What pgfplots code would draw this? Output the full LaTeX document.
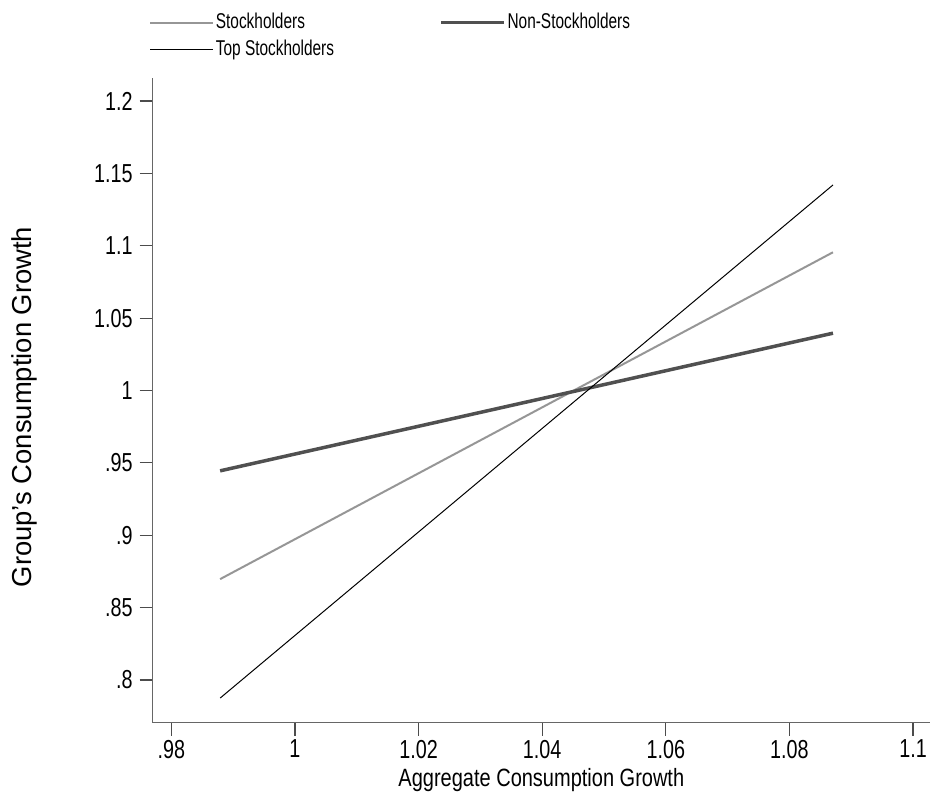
\documentclass[border=0pt]{standalone}
\usepackage{fontspec}
\setmainfont{Liberation Sans}
\newfontfamily\tickfont[FakeStretch=0.76]{Liberation Sans}
\newfontfamily\legfont[FakeStretch=0.72]{Liberation Sans}
\newfontfamily\xlabfont[FakeStretch=0.8]{Liberation Sans}
\usepackage{pgfplots}
\pgfplotsset{compat=1.18}
\definecolor{stockgray}{RGB}{150,150,150}
\definecolor{nongray}{RGB}{80,80,80}
\begin{document}
\begin{tikzpicture}
\begin{axis}[
  name=ax, at={(0,0)}, anchor=south west,
  scale only axis, width=388.65pt, height=322.35pt,
  xmin=0.97698, xmax=1.10275, ymin=0.7705, ymax=1.2159,
  axis x line*=bottom, axis y line*=left,
  axis line style={draw=black!60, line width=0.6pt, -},
  xtick={0.98,1,1.02,1.04,1.06,1.08,1.1},
  xticklabels={.98,1,1.02,1.04,1.06,1.08,1.1},
  ytick={0.8,0.85,0.9,0.95,1,1.05,1.1,1.15,1.2},
  yticklabels={.8,.85,.9,.95,1,1.05,1.1,1.15,1.2},
  tick align=outside, major tick length=6.5pt,
  tick style={draw=black!70, line width=0.6pt},
  xticklabel style={font=\tickfont\fontsize{13}{15}\selectfont, inner sep=0pt, yshift=-2pt},
  yticklabel style={font=\tickfont\fontsize{13}{15}\selectfont},
  xlabel={Aggregate Consumption Growth},
  xlabel style={font=\xlabfont\fontsize{12.5}{14}\selectfont, at={(axis description cs:0.5,0)}, anchor=base, yshift=-32pt},
  ylabel={Group's Consumption Growth},
  ylabel style={font=\fontsize{13.7}{15}\selectfont, at={([xshift=-60.35pt,yshift=-3.3pt]axis description cs:0,0.5)}, anchor=base, rotate=0},
  legend columns=2,
  legend style={draw=none, fill=none, inner sep=0pt, at={(axis description cs:0,1)}, anchor=north west, xshift=-1.85pt, yshift=33.25pt,
    font=\legfont\fontsize{10.7}{12}\selectfont, nodes={inner sep=0.75pt}, row sep=2.5pt,
    /tikz/every even column/.append style={column sep=52pt}},
  legend cell align=left,
  legend image code/.code={\draw[#1] (0pt,0pt) -- (31.5pt,0pt);},
]
\addplot[stockgray, line width=1pt] coordinates {(0.98789,0.8697) (1.08705,1.0955)};
\addlegendentry{Stockholders}
\addplot[nongray, line width=1.75pt] coordinates {(0.98789,0.9445) (1.08705,1.0396)};
\addlegendentry{Non-Stockholders}
\addplot[black, line width=0.5pt] coordinates {(0.98789,0.7875) (1.08705,1.1420)};
\addlegendentry{Top Stockholders}
\end{axis}
\pgfresetboundingbox
\path[use as bounding box] (-76.35pt,-37.65pt) rectangle (388.65pt,361.35pt);
\end{tikzpicture}
\end{document}
